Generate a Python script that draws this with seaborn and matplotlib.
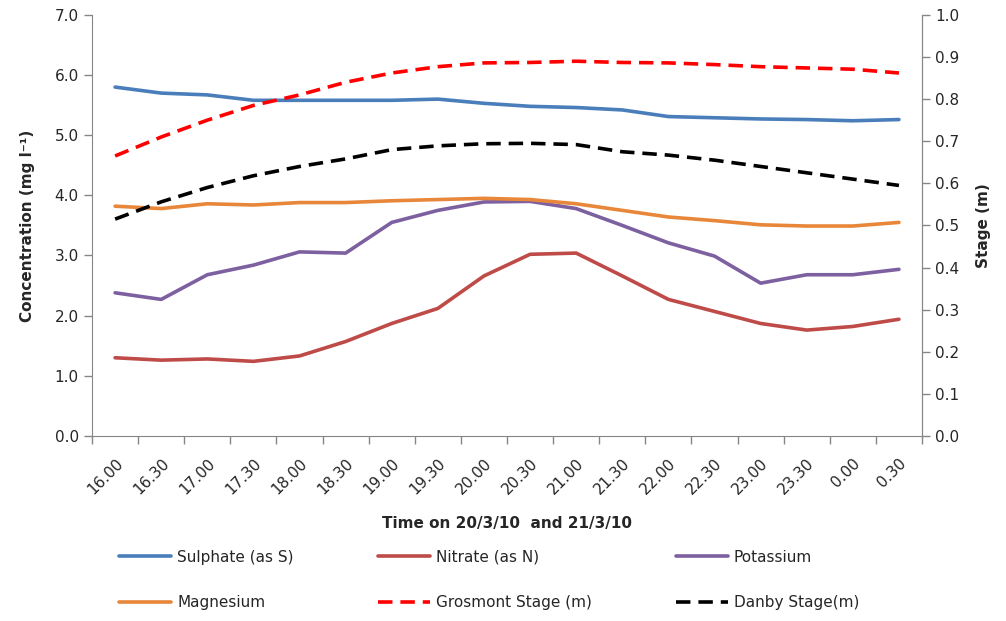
import numpy as np
import pandas as pd
import matplotlib
matplotlib.use("Agg")
import matplotlib.pyplot as plt
import seaborn as sns

# Sample times (20/3/10 into 21/3/10)
times = ["16.00", "16.30", "17.00", "17.30", "18.00", "18.30", "19.00", "19.30", "20.00",
         "20.30", "21.00", "21.30", "22.00", "22.30", "23.00", "23.30", "0.00", "0.30"]

# Concentrations (mg/l), left axis
sulphate = [5.80, 5.70, 5.67, 5.58, 5.58, 5.58, 5.58, 5.60, 5.53,
            5.48, 5.46, 5.42, 5.31, 5.29, 5.27, 5.26, 5.24, 5.26]
nitrate = [1.30, 1.26, 1.28, 1.24, 1.33, 1.57, 1.87, 2.12, 2.66,
           3.02, 3.04, 2.66, 2.27, 2.07, 1.87, 1.76, 1.82, 1.94]
potassium = [2.38, 2.27, 2.68, 2.84, 3.06, 3.04, 3.55, 3.75, 3.89,
             3.90, 3.78, 3.50, 3.21, 2.99, 2.54, 2.68, 2.68, 2.77]
magnesium = [3.82, 3.78, 3.86, 3.84, 3.88, 3.88, 3.91, 3.93, 3.95,
             3.93, 3.86, 3.75, 3.64, 3.58, 3.51, 3.49, 3.49, 3.55]

# River stage (m), right axis
grosmont = [0.665, 0.710, 0.750, 0.785, 0.810, 0.840, 0.862, 0.877, 0.886,
            0.887, 0.890, 0.887, 0.886, 0.882, 0.877, 0.874, 0.871, 0.862]
danby = [0.515, 0.556, 0.590, 0.618, 0.640, 0.658, 0.680, 0.689, 0.694,
         0.695, 0.692, 0.675, 0.667, 0.655, 0.640, 0.625, 0.610, 0.595]

sns.set_style("white")
plt.rcParams['font.family'] = ['DejaVu Sans']

fig = plt.figure(figsize=(10.06, 6.21), dpi=100)
ax = fig.add_axes([0.0915, 0.298, 0.825, 0.678])
ax2 = ax.twinx()

conc = [("Sulphate (as S)", sulphate, "#4A7EBB"),
        ("Nitrate (as N)", nitrate, "#BE4B48"),
        ("Potassium", potassium, "#7D60A0"),
        ("Magnesium", magnesium, "#E8873A")]
stage = [("Grosmont Stage (m)", grosmont, "#FF0000"),
         ("Danby Stage(m)", danby, "#000000")]

handles = {}
for name, vals, col in conc:
    sns.lineplot(x=times, y=vals, ax=ax, color=col, lw=2.6, sort=False, label=name, legend=False)
    handles[name] = ax.lines[-1]
for name, vals, col in stage:
    sns.lineplot(x=times, y=vals, ax=ax2, color=col, lw=2.6, sort=False, label=name, legend=False)
    ln = ax2.lines[-1]
    ln.set_dashes([4, 2.2])
    handles[name] = ln

ax.set_ylim(0, 7)
ax.set_yticks(np.arange(0, 7.01, 1.0))
ax.set_yticklabels([f"{v:.1f}" for v in np.arange(0, 7.01, 1.0)])
ax2.set_ylim(0, 1)
ax2.set_yticks(np.arange(0, 1.001, 0.1))
ax2.set_yticklabels([f"{v:.1f}" for v in np.arange(0, 1.001, 0.1)])
ax.set_xlim(-0.5, len(times) - 0.5)

# category labels at centres, tick marks at boundaries
ax.set_xticks(range(len(times)))
ax.set_xticklabels(times, rotation=45, ha="right", rotation_mode="anchor")
ax.set_xticks(np.arange(-0.5, len(times), 1.0), minor=True)
ax.tick_params(axis="x", which="major", length=0, pad=14, labelsize=11)
ax.tick_params(axis="x", which="minor", length=6, width=1, color="#868686", direction="out", bottom=True)
ax.tick_params(axis="y", length=6, width=1, color="#868686", direction="out", left=True, labelsize=11)
ax2.tick_params(axis="y", length=6, width=1, color="#868686", direction="out", right=True, labelsize=11)

for a in (ax, ax2):
    for s in a.spines.values():
        s.set_color("#868686")
    a.spines["top"].set_visible(False)
    a.grid(False)
ax2.spines["left"].set_visible(False)
ax2.spines["bottom"].set_visible(False)

ax.set_xlabel("Time on 20/3/10  and 21/3/10", fontsize=11, fontweight="bold", labelpad=14)
ax.set_ylabel("Concentration (mg l\u207b\u00b9)", fontsize=11, fontweight="bold", labelpad=14)
ax2.set_ylabel("Stage (m)", fontsize=11, fontweight="bold", labelpad=12)

order = ["Sulphate (as S)", "Magnesium", "Nitrate (as N)",
         "Grosmont Stage (m)", "Potassium", "Danby Stage(m)"]
fig.legend([handles[k] for k in order], order, loc="lower left",
           bbox_to_anchor=(0.105, -0.005), ncol=3, frameon=False, fontsize=11,
           handlelength=3.4, columnspacing=5.5, labelspacing=2.0, handletextpad=0.4)

fig.savefig("out.png", dpi=100)
